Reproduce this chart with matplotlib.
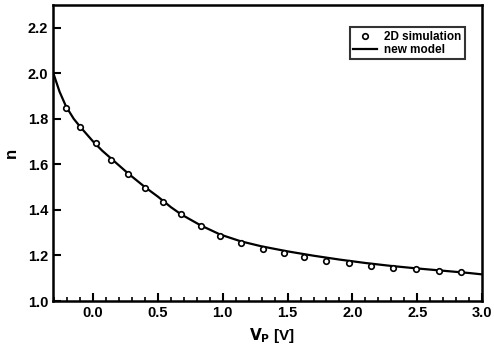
import matplotlib
matplotlib.use("Agg")
import matplotlib.pyplot as plt
from matplotlib.ticker import MultipleLocator

plt.rcParams['font.family'] = ['Liberation Sans', 'DejaVu Sans']

# 2D simulation points
sim_v = [-0.21, -0.10, 0.02, 0.14, 0.27, 0.40, 0.54, 0.68, 0.83, 0.98, 1.14,
         1.31, 1.47, 1.63, 1.80, 1.97, 2.14, 2.31, 2.49, 2.67, 2.84]
sim_n = [1.848, 1.762, 1.692, 1.618, 1.556, 1.497, 1.436, 1.380, 1.330, 1.286, 1.254,
         1.228, 1.209, 1.192, 1.177, 1.165, 1.155, 1.146, 1.139, 1.132, 1.126]

# new model curve
mod_v = [-0.31, -0.26, -0.21, -0.15, -0.10, 0.0, 0.07, 0.14, 0.27, 0.40, 0.50, 0.60,
         0.68, 0.83, 0.98, 1.14, 1.30, 1.50, 1.70, 1.90, 2.10, 2.30, 2.50, 2.70, 2.90, 3.0]
mod_n = [2.005, 1.92, 1.855, 1.80, 1.765, 1.700, 1.66, 1.625, 1.560, 1.500, 1.458, 1.412,
         1.380, 1.332, 1.292, 1.262, 1.240, 1.218, 1.199, 1.182, 1.167, 1.154, 1.143, 1.133, 1.123, 1.117]

x_ticks = [0.0, 0.5, 1.0, 1.5, 2.0, 2.5, 3.0]
y_ticks = [1.0, 1.2, 1.4, 1.6, 1.8, 2.0, 2.2]

fig = plt.figure(figsize=(4.94, 3.49), dpi=100)
ax = fig.add_axes([0.1073, 0.1375, 0.8684, 0.8482])

ax.plot(mod_v, mod_n, color='black', lw=1.6, label='new model', zorder=2)
ax.plot(sim_v, sim_n, 'o', ms=4, mfc='white', mec='black', mew=1.2,
        label='2D simulation', zorder=3)

ax.set_xlim(-0.31, 3.0)
ax.set_ylim(1.0, 2.3)
ax.set_xticks(x_ticks)
ax.set_yticks(y_ticks)
ax.set_xticklabels([f"{t:.1f}" for t in x_ticks])
ax.set_yticklabels([f"{t:.1f}" for t in y_ticks])
ax.xaxis.set_minor_locator(MultipleLocator(0.1))

ax.tick_params(axis='both', which='major', direction='in', length=6, width=1.5,
               labelsize=10.5, top=False, right=False)
ax.tick_params(axis='x', which='minor', direction='in', length=3, width=1.2, top=False)
for lab in ax.get_xticklabels() + ax.get_yticklabels():
    lab.set_fontweight('bold')

for s in ax.spines.values():
    s.set_linewidth(1.8)

ax.set_xlabel(r'$\mathbf{V_P}$ [V]', fontsize=11, fontweight='bold', labelpad=1)
ax.xaxis.set_label_coords(0.51, -0.085)
ax.set_ylabel('n', fontsize=12, fontweight='bold', labelpad=6)

h, l = ax.get_legend_handles_labels()
leg = ax.legend(h[::-1], l[::-1], loc='upper right', bbox_to_anchor=(0.96, 0.925),
                fontsize=8.5, frameon=True, fancybox=False, edgecolor='black',
                borderpad=0.3, labelspacing=0.1, handlelength=2.0, handletextpad=0.6,
                borderaxespad=0)
leg.get_frame().set_linewidth(1.5)
for t in leg.get_texts():
    t.set_fontweight('bold')

fig.savefig('out.png', dpi=100)
